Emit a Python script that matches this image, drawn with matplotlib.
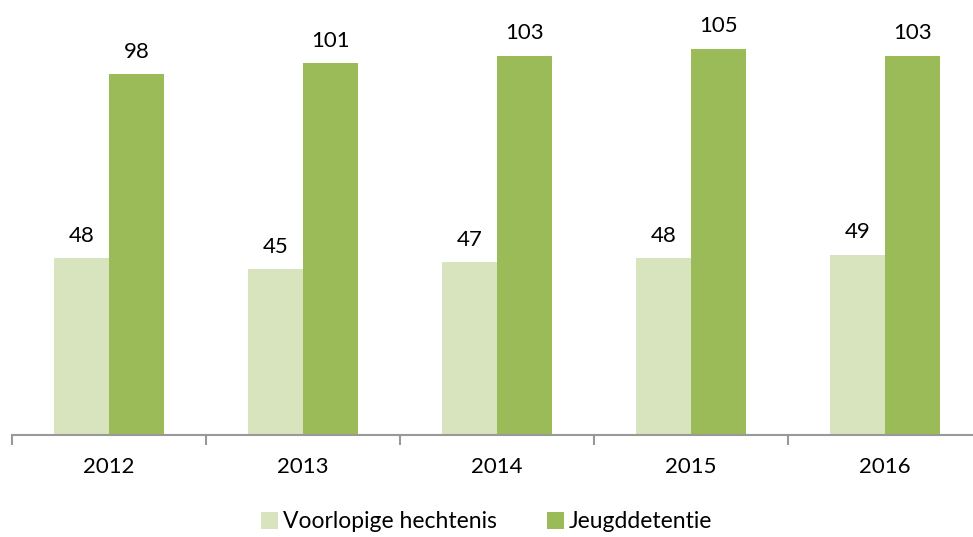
import matplotlib.pyplot as plt
import numpy as np

plt.rcParams['font.family'] = ['Lato', 'DejaVu Sans']

# data
years = ['2012', '2013', '2014', '2015', '2016']
voorlopig = [48, 45, 47, 48, 49]
jeugd = [98, 101, 103, 105, 103]

light = '#D7E4BD'
dark = '#9BBB59'

fig = plt.figure(figsize=(9.73, 5.37), dpi=100)
# axes runs a bit past the right edge, like the original
ax = fig.add_axes([12 / 973, 1 - 435 / 537, 970 / 973, 435 / 537])

x = np.arange(len(years))
w = 0.285
b1 = ax.bar(x - w / 2, voorlopig, w, color=light, label='Voorlopige hechtenis')
b2 = ax.bar(x + w / 2, jeugd, w, color=dark, label='Jeugddetentie')

for bars in (b1, b2):
    for rect in bars:
        ax.annotate(str(int(rect.get_height())),
                    (rect.get_x() + rect.get_width() / 2, rect.get_height()),
                    xytext=(0, 9), textcoords='offset points',
                    ha='center', va='bottom', fontsize=16)

ax.set_xlim(-0.5, len(years) - 0.5)
ax.set_ylim(0, 435 / 3.68)

for s in ['top', 'right', 'left']:
    ax.spines[s].set_visible(False)
ax.spines['bottom'].set_color('#999999')
ax.spines['bottom'].set_linewidth(1.5)
ax.set_yticks([])

ax.set_xticks(x)
ax.set_xticklabels(years, fontsize=16)
ax.tick_params(axis='x', which='major', length=0, pad=16)
ax.set_xticks(np.arange(len(years) + 1) - 0.5, minor=True)
ax.tick_params(axis='x', which='minor', length=7, width=1.5, color='#999999')

fig.legend(handles=[b1, b2], loc='lower center', ncol=2, frameon=False,
           fontsize=16.5, bbox_to_anchor=(0.5, -0.03), handlelength=0.75,
           handleheight=0.75, handletextpad=0.2, columnspacing=2.2)

fig.savefig('out.png', dpi=100)
